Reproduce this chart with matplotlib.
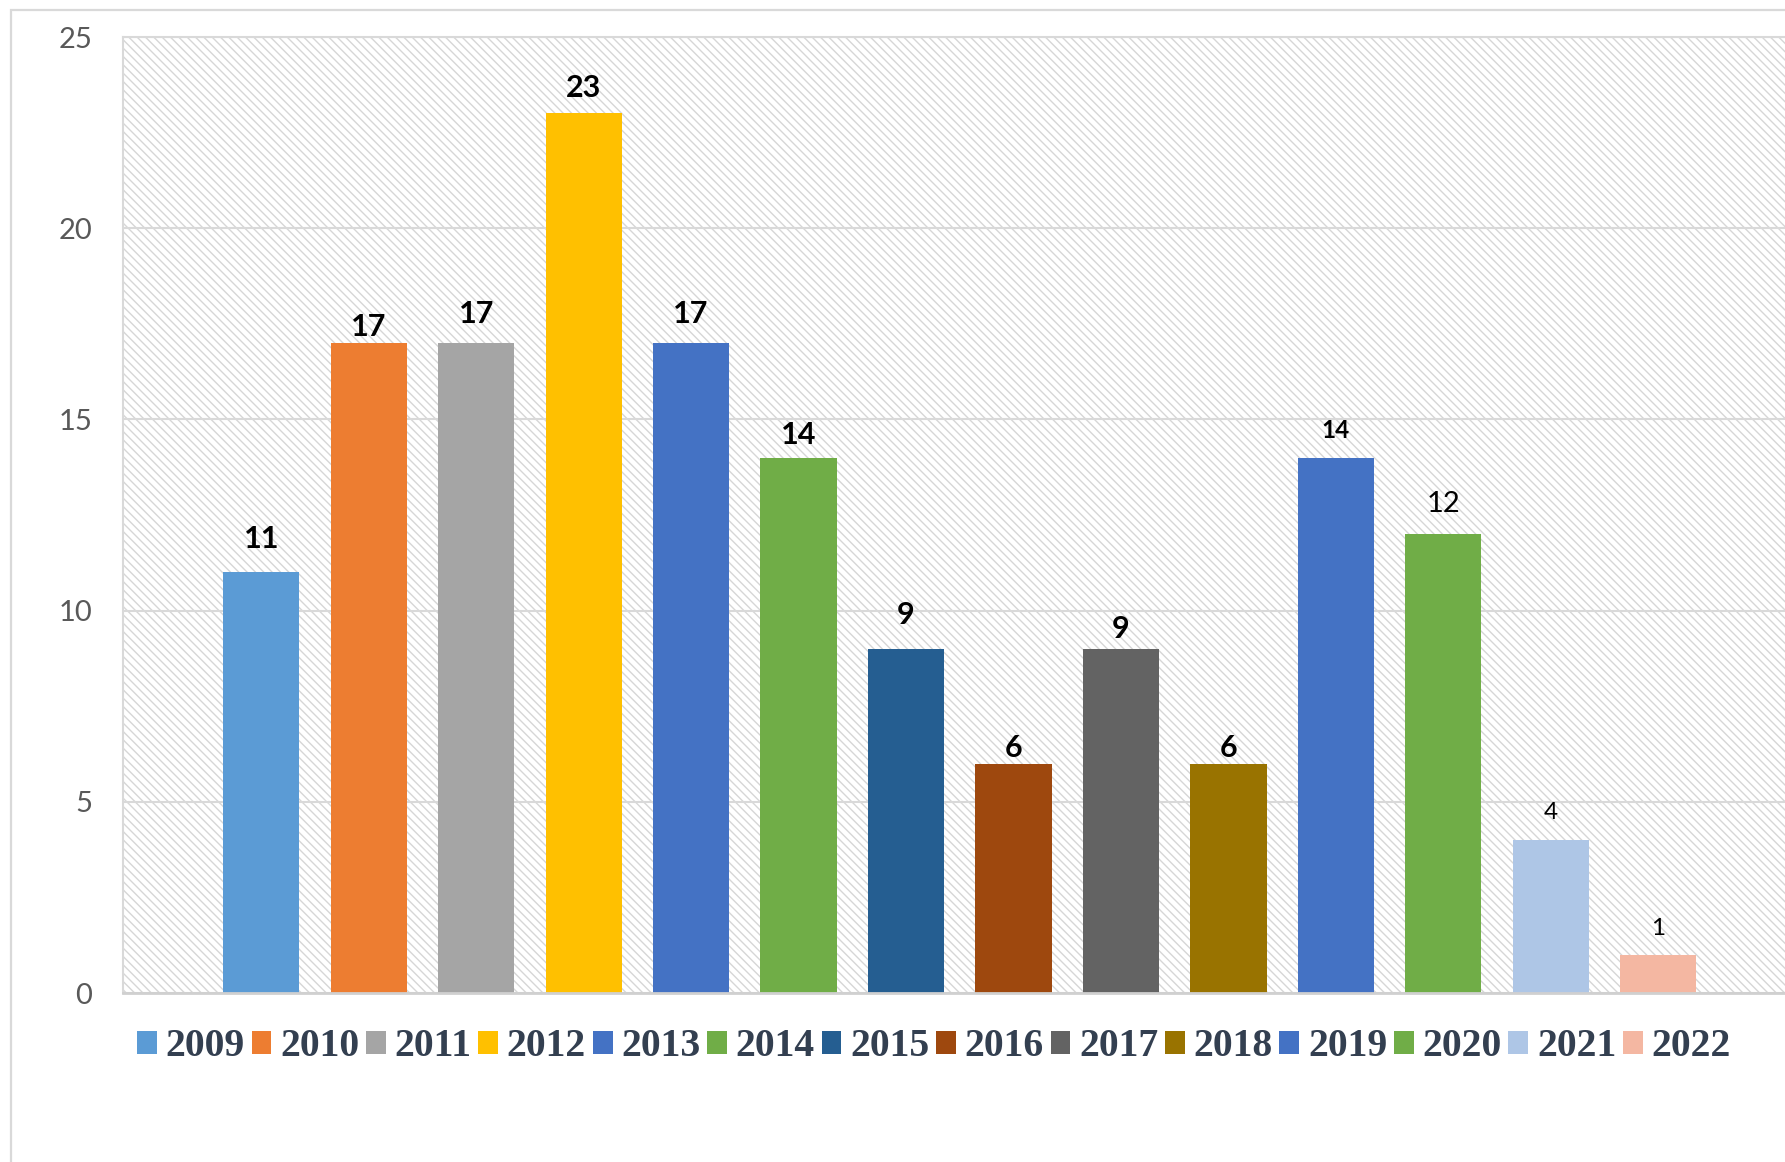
import matplotlib
matplotlib.use("Agg")
import matplotlib.pyplot as plt
from matplotlib.patches import Rectangle, Patch

# ---- data ----
years = ["2009", "2010", "2011", "2012", "2013", "2014", "2015",
         "2016", "2017", "2018", "2019", "2020", "2021", "2022"]
counts = [11, 17, 17, 23, 17, 14, 9, 6, 9, 6, 14, 12, 4, 1]
yticks = [0, 5, 10, 15, 20, 25]

# ---- styles ----
bar_colors = ["#5B9BD5", "#ED7D31", "#A5A5A5", "#FFC000", "#4472C4", "#70AD47",
              "#255E91", "#9E480E", "#636363", "#997300", "#4472C4", "#70AD47",
              "#AEC6E6", "#F4B7A2"]
label_dy = [0.86, 0.41, 0.75, 0.67, 0.75, 0.6, 0.89, 0.41, 0.53, 0.41, 0.71, 0.78, 0.71, 0.68]
label_size = [22, 22, 22, 22, 22, 22, 22, 22, 22, 22, 17.5, 21, 17.5, 17.5]
label_weight = ["bold"] * 11 + ["normal"] * 3

W, H = 1785, 1162
fig = plt.figure(figsize=(W / 100, H / 100), dpi=100)
fig.patch.set_facecolor("white")

# outer chart border
fig.add_artist(Rectangle((11 / W, -0.05), 1.2, 1 - 10 / H + 0.05,
                         transform=fig.transFigure, fill=False,
                         edgecolor="#d9d9d9", linewidth=1.6))

left, right = 123 / W, 1.0
bottom, top = (H - 993) / H, (H - 37) / H
ax = fig.add_axes([left, bottom, right - left, top - bottom])

plt.rcParams["hatch.linewidth"] = 0.7
ax.patch.set_facecolor("white")
ax.patch.set_edgecolor("#d6d6d6")
ax.patch.set_linewidth(0)
ax.patch.set_hatch("\\\\\\\\")

x = list(range(len(years)))
ax.bar(x, counts, width=0.71, color=bar_colors, zorder=3)

for i, v in enumerate(counts):
    ax.text(i, v + label_dy[i], str(v), ha="center", va="center",
            fontsize=label_size[i], fontweight=label_weight[i],
            family="Lato", color="black", zorder=4)

ax.set_xlim(-1.287, 14.18)
ax.set_ylim(0, 25)
ax.set_yticks(yticks)
ax.set_yticklabels([str(t) for t in yticks], fontsize=21, color="#595959", family="Lato")
ax.set_xticks([])
ax.tick_params(axis="y", length=0, pad=22)
ax.grid(axis="y", color="#d9d9d9", linewidth=1.5, zorder=1)
ax.set_axisbelow(True)

for s in ["left", "top"]:
    ax.spines[s].set_color("#d9d9d9")
    ax.spines[s].set_linewidth(1.5)
ax.spines["right"].set_visible(False)
ax.spines["bottom"].set_color("#d0d0d0")
ax.spines["bottom"].set_linewidth(2)
ax.spines["bottom"].set_zorder(5)

handles = [Patch(facecolor=c, edgecolor="none") for c in bar_colors]
leg = fig.legend(handles, years, loc="center", bbox_to_anchor=(934 / W, (H - 1047) / H),
                 ncol=len(years), frameon=False, borderpad=0,
                 handlelength=0.5, handleheight=0.5, handletextpad=0.22,
                 columnspacing=0.17,
                 prop={"family": "Liberation Serif", "weight": "bold", "size": 28.5})
for t in leg.get_texts():
    t.set_color("#333F50")

fig.savefig("out.png", dpi=100)
